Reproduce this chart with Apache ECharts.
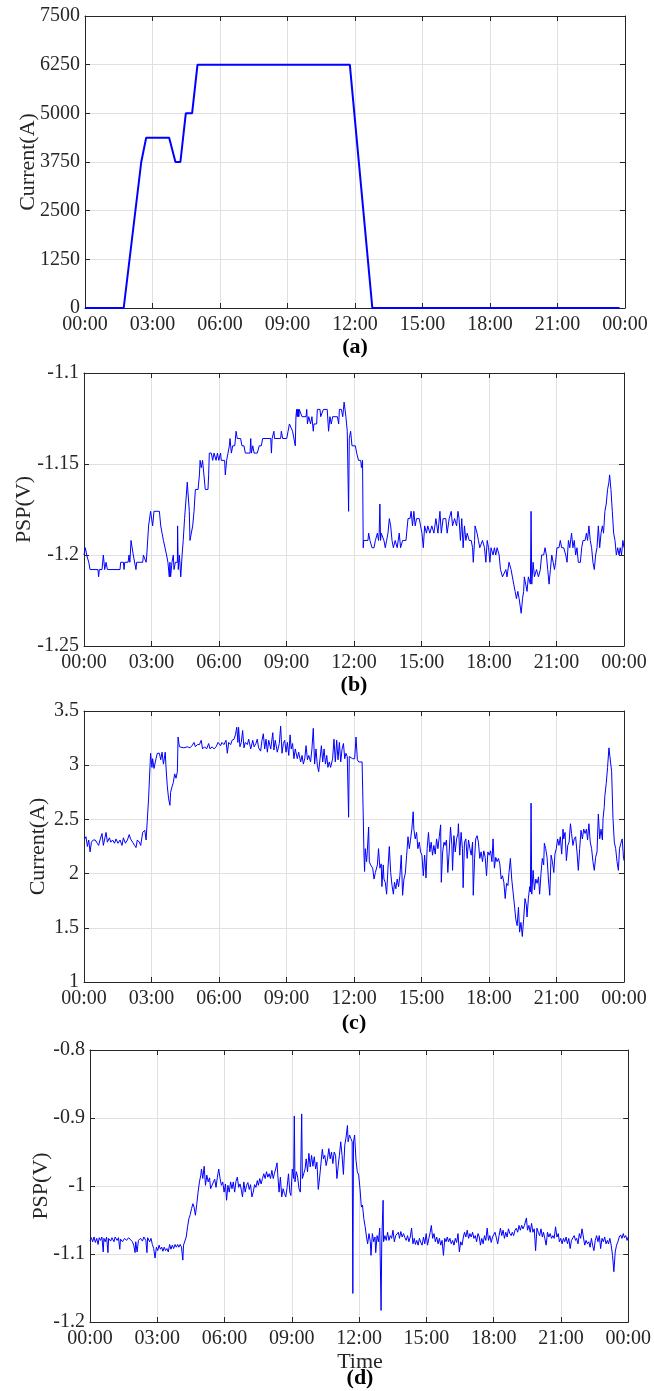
<!DOCTYPE html>
<html>
<head>
<meta charset="utf-8">
<title>Current and PSP over one day</title>
<script src="https://cdn.jsdelivr.net/npm/echarts@6/dist/echarts.min.js"></script>
<style>
  html, body { margin: 0; padding: 0; background: #fff; }
  #chart { width: 654px; height: 1391px; }
</style>
</head>
<body>
<div id="chart"></div>
<script>
// time axis ticks (hours), last one shows as 00:00 of the next day
const hourTicks = [0, 3, 6, 9, 12, 15, 18, 21, 24];

// (a) drain current of the station, A
const aHours = [0, 1.72, 2.50, 2.72, 3.74, 4.02, 4.24, 4.48, 4.76, 5.00, 11.77, 12.77, 23.76];
const aCurrent = [0, 0, 3750, 4375, 4375, 3750, 3750, 5000, 5000, 6250, 6250, 0, 0];

// (b) pipe-to-soil potential, V  [hour, value]
const bPsp = [
  [0,-1.200],[0.06,-1.196],[0.12,-1.200],[0.21,-1.204],[0.27,-1.208],[0.62,-1.208],[0.65,-1.212],[0.68,-1.208],
  [0.80,-1.208],[0.86,-1.200],[0.92,-1.208],[0.98,-1.204],[1.04,-1.208],[1.60,-1.208],[1.63,-1.204],[1.75,-1.204],
  [1.78,-1.208],[1.81,-1.204],[1.96,-1.204],[2.00,-1.200],[2.04,-1.204],[2.09,-1.192],[2.16,-1.192],[2.19,-1.200],
  [2.25,-1.200],[2.31,-1.208],[2.34,-1.204],[2.61,-1.204],[2.64,-1.200],[2.76,-1.204],[2.79,-1.200],[2.87,-1.184],
  [2.96,-1.176],[3.02,-1.176],[3.05,-1.184],[3.11,-1.176],[3.35,-1.176],[3.41,-1.184],[3.47,-1.188],[3.53,-1.192],
  [3.61,-1.192],[3.67,-1.200],[3.73,-1.204],[3.79,-1.212],[3.82,-1.204],[3.85,-1.212],[3.91,-1.204],[3.97,-1.200],
  [4.00,-1.208],[4.06,-1.204],[4.15,-1.204],[4.16,-1.184],[4.19,-1.208],[4.24,-1.200],[4.30,-1.212],[4.36,-1.200],
  [4.41,-1.192],[4.47,-1.180],[4.53,-1.180],[4.59,-1.160],[4.65,-1.160],[4.68,-1.176],[4.71,-1.192],[4.77,-1.188],
  [4.83,-1.184],[4.89,-1.176],[4.95,-1.164],[5.07,-1.164],[5.13,-1.156],[5.16,-1.148],[5.21,-1.152],[5.27,-1.148],
  [5.33,-1.156],[5.39,-1.164],[5.51,-1.164],[5.54,-1.156],[5.57,-1.144],[5.66,-1.144],[5.72,-1.148],[5.78,-1.144],
  [5.87,-1.148],[5.93,-1.144],[5.99,-1.148],[6.07,-1.144],[6.10,-1.148],[6.25,-1.148],[6.28,-1.156],[6.34,-1.148],
  [6.40,-1.144],[6.46,-1.140],[6.49,-1.136],[6.55,-1.144],[6.61,-1.140],[6.70,-1.140],[6.76,-1.132],[6.81,-1.136],
  [6.96,-1.136],[7.02,-1.140],[7.11,-1.140],[7.17,-1.144],[7.38,-1.144],[7.41,-1.136],[7.44,-1.144],[7.50,-1.140],
  [7.56,-1.144],[7.70,-1.144],[7.79,-1.140],[7.88,-1.140],[7.94,-1.136],[8.30,-1.136],[8.33,-1.144],[8.36,-1.136],
  [8.44,-1.132],[8.47,-1.136],[8.74,-1.136],[8.77,-1.132],[8.83,-1.136],[9.01,-1.136],[9.07,-1.132],[9.13,-1.128],
  [9.21,-1.128],[9.27,-1.132],[9.33,-1.132],[9.39,-1.140],[9.42,-1.124],[9.45,-1.120],[9.47,-1.124],[9.49,-1.120],
  [9.51,-1.124],[9.53,-1.120],[9.55,-1.124],[9.57,-1.120],[9.63,-1.120],[9.69,-1.124],[9.87,-1.124],[9.90,-1.120],
  [9.93,-1.128],[9.99,-1.124],[10.07,-1.128],[10.13,-1.124],[10.19,-1.132],[10.22,-1.128],[10.34,-1.128],[10.37,-1.120],
  [10.49,-1.120],[10.52,-1.124],[10.64,-1.120],[10.81,-1.120],[10.87,-1.132],[10.93,-1.124],[10.99,-1.128],[11.05,-1.124],
  [11.26,-1.124],[11.32,-1.128],[11.35,-1.120],[11.44,-1.120],[11.50,-1.124],[11.53,-1.120],[11.56,-1.116],[11.64,-1.124],
  [11.67,-1.128],[11.70,-1.132],[11.76,-1.176],[11.79,-1.136],[11.85,-1.132],[11.91,-1.140],[12.06,-1.140],[12.12,-1.144],
  [12.20,-1.148],[12.30,-1.148],[12.33,-1.152],[12.38,-1.148],[12.41,-1.196],[12.43,-1.192],[12.62,-1.192],[12.65,-1.188],
  [12.71,-1.192],[12.80,-1.196],[12.89,-1.196],[12.95,-1.192],[13.04,-1.188],[13.09,-1.192],[13.12,-1.188],[13.15,-1.172],
  [13.18,-1.192],[13.21,-1.188],[13.27,-1.188],[13.33,-1.192],[13.39,-1.196],[13.45,-1.192],[13.51,-1.188],[13.57,-1.180],
  [13.63,-1.184],[13.69,-1.192],[13.75,-1.196],[13.83,-1.192],[13.92,-1.196],[14.01,-1.188],[14.07,-1.196],[14.16,-1.192],
  [14.31,-1.192],[14.40,-1.180],[14.49,-1.180],[14.54,-1.176],[14.60,-1.184],[14.66,-1.176],[14.72,-1.184],[14.78,-1.180],
  [14.90,-1.180],[14.96,-1.184],[15.02,-1.188],[15.08,-1.196],[15.14,-1.184],[15.22,-1.188],[15.28,-1.184],[15.37,-1.188],
  [15.46,-1.184],[15.55,-1.188],[15.64,-1.180],[15.73,-1.188],[15.82,-1.176],[15.88,-1.188],[15.96,-1.180],[16.08,-1.180],
  [16.14,-1.188],[16.23,-1.180],[16.32,-1.176],[16.38,-1.184],[16.47,-1.180],[16.56,-1.184],[16.62,-1.176],[16.67,-1.180],
  [16.73,-1.192],[16.79,-1.180],[16.85,-1.196],[16.91,-1.184],[16.97,-1.192],[17.03,-1.188],[17.12,-1.192],[17.21,-1.192],
  [17.27,-1.196],[17.30,-1.204],[17.36,-1.192],[17.38,-1.184],[17.47,-1.188],[17.53,-1.192],[17.59,-1.196],[17.71,-1.192],
  [17.80,-1.196],[17.86,-1.204],[17.92,-1.192],[17.98,-1.196],[18.04,-1.204],[18.09,-1.196],[18.18,-1.200],[18.24,-1.196],
  [18.30,-1.200],[18.36,-1.196],[18.45,-1.200],[18.51,-1.208],[18.60,-1.212],[18.75,-1.208],[18.80,-1.212],[18.89,-1.204],
  [18.98,-1.208],[19.04,-1.212],[19.10,-1.216],[19.16,-1.220],[19.22,-1.224],[19.28,-1.220],[19.34,-1.224],[19.43,-1.232],
  [19.49,-1.224],[19.54,-1.220],[19.57,-1.212],[19.63,-1.216],[19.69,-1.220],[19.75,-1.212],[19.84,-1.216],[19.87,-1.176],
  [19.90,-1.216],[19.96,-1.204],[20.02,-1.212],[20.11,-1.208],[20.20,-1.212],[20.28,-1.208],[20.34,-1.200],[20.43,-1.200],
  [20.49,-1.196],[20.55,-1.200],[20.61,-1.208],[20.67,-1.216],[20.73,-1.208],[20.79,-1.200],[20.85,-1.204],[20.91,-1.208],
  [20.96,-1.204],[21.02,-1.196],[21.11,-1.196],[21.17,-1.192],[21.23,-1.196],[21.32,-1.196],[21.41,-1.200],[21.47,-1.204],
  [21.53,-1.192],[21.59,-1.196],[21.67,-1.188],[21.73,-1.196],[21.79,-1.192],[21.85,-1.200],[21.91,-1.196],[21.97,-1.204],
  [22.06,-1.204],[22.12,-1.196],[22.18,-1.192],[22.27,-1.192],[22.33,-1.188],[22.38,-1.192],[22.44,-1.184],[22.50,-1.192],
  [22.56,-1.196],[22.62,-1.204],[22.68,-1.208],[22.74,-1.200],[22.80,-1.196],[22.86,-1.184],[22.92,-1.196],[22.98,-1.188],
  [23.04,-1.184],[23.09,-1.188],[23.15,-1.176],[23.21,-1.172],[23.27,-1.164],[23.33,-1.160],[23.36,-1.156],[23.42,-1.164],
  [23.48,-1.176],[23.54,-1.188],[23.60,-1.192],[23.66,-1.200],[23.72,-1.196],[23.78,-1.200],[23.83,-1.196],[23.89,-1.200],
  [23.95,-1.192],[24.00,-1.196]
];

// (c) current on the coupon, A  [hour, value]
const cCurrent = [
  [0.03,2.32],[0.09,2.34],[0.15,2.25],[0.21,2.31],[0.27,2.20],[0.33,2.29],[0.41,2.31],[0.50,2.31],[0.59,2.28],[0.65,2.26],
  [0.71,2.31],[0.80,2.37],[0.86,2.26],[0.92,2.32],[0.98,2.38],[1.04,2.29],[1.13,2.33],[1.19,2.29],[1.27,2.31],[1.36,2.28],
  [1.42,2.32],[1.51,2.28],[1.60,2.31],[1.69,2.26],[1.75,2.33],[1.84,2.28],[1.93,2.31],[2.01,2.36],[2.07,2.32],[2.16,2.29],
  [2.25,2.26],[2.31,2.24],[2.37,2.31],[2.46,2.29],[2.52,2.26],[2.61,2.38],[2.70,2.40],[2.76,2.31],[2.79,2.31],[2.87,2.69],
  [2.96,3.11],[3.02,2.98],[3.05,3.06],[3.11,2.97],[3.20,3.06],[3.26,3.11],[3.35,3.11],[3.41,3.05],[3.47,3.12],[3.53,3.01],
  [3.61,3.12],[3.64,3.00],[3.70,2.81],[3.76,2.69],[3.82,2.63],[3.85,2.75],[3.91,2.80],[3.97,2.84],[4.03,2.92],[4.09,2.88],
  [4.15,2.94],[4.18,3.26],[4.24,3.17],[4.30,3.16],[4.44,3.16],[4.59,3.17],[4.71,3.16],[4.80,3.18],[4.89,3.21],[4.95,3.17],
  [5.04,3.19],[5.13,3.19],[5.21,3.23],[5.27,3.15],[5.36,3.17],[5.45,3.15],[5.54,3.20],[5.60,3.15],[5.69,3.17],[5.78,3.15],
  [5.87,3.17],[5.96,3.21],[6.01,3.20],[6.07,3.18],[6.13,3.21],[6.22,3.19],[6.31,3.23],[6.37,3.11],[6.43,3.21],[6.52,3.19],
  [6.58,3.23],[6.67,3.24],[6.73,3.28],[6.79,3.35],[6.84,3.21],[6.87,3.35],[6.93,3.17],[6.99,3.21],[7.05,3.32],[7.11,3.16],
  [7.17,3.21],[7.26,3.19],[7.32,3.24],[7.41,3.15],[7.50,3.23],[7.56,3.17],[7.64,3.20],[7.70,3.24],[7.76,3.16],[7.85,3.13],
  [7.91,3.23],[7.97,3.29],[8.03,3.15],[8.09,3.24],[8.15,3.12],[8.21,3.23],[8.30,3.15],[8.39,3.30],[8.44,3.14],[8.50,3.23],
  [8.59,3.12],[8.68,3.20],[8.74,3.36],[8.80,3.11],[8.86,3.20],[8.92,3.23],[8.98,3.12],[9.04,3.21],[9.10,3.09],[9.16,3.28],
  [9.21,3.15],[9.27,3.20],[9.33,3.06],[9.39,3.15],[9.48,3.06],[9.54,3.12],[9.63,3.03],[9.69,3.09],[9.75,3.01],[9.81,3.06],
  [9.87,3.18],[9.93,3.05],[9.99,3.09],[10.07,3.03],[10.13,3.15],[10.19,3.34],[10.25,3.01],[10.31,3.15],[10.37,3.00],[10.43,2.94],
  [10.49,3.06],[10.55,3.18],[10.61,3.03],[10.67,3.15],[10.73,3.01],[10.79,3.09],[10.84,2.98],[10.90,3.03],[10.96,2.98],[11.05,3.06],
  [11.11,3.24],[11.17,3.03],[11.23,3.23],[11.29,3.05],[11.35,3.21],[11.41,3.03],[11.47,3.15],[11.53,3.20],[11.59,3.06],[11.64,3.11],
  [11.70,3.08],[11.76,2.52],[11.79,3.08],[11.85,3.09],[11.94,3.06],[12.03,3.06],[12.09,3.26],[12.15,3.05],[12.21,3.03],[12.36,3.03],
  [12.41,2.54],[12.44,2.21],[12.47,2.02],[12.50,2.23],[12.56,2.11],[12.59,2.20],[12.65,2.43],[12.68,2.11],[12.74,2.08],[12.83,2.05],
  [12.89,1.95],[12.95,2.01],[13.01,2.00],[13.04,2.08],[13.09,2.23],[13.15,2.05],[13.21,2.09],[13.24,1.88],[13.30,2.08],[13.33,1.95],
  [13.39,1.92],[13.45,1.81],[13.51,2.05],[13.57,2.25],[13.63,2.01],[13.69,1.89],[13.75,1.81],[13.80,1.92],[13.86,1.86],[13.92,1.95],
  [13.98,1.88],[14.04,1.98],[14.10,2.17],[14.16,1.80],[14.22,1.95],[14.28,2.00],[14.34,2.17],[14.40,2.34],[14.46,2.23],[14.51,2.31],
  [14.57,2.41],[14.63,2.57],[14.66,2.41],[14.72,2.32],[14.78,2.38],[14.84,2.23],[14.90,2.29],[14.96,2.20],[15.02,2.17],[15.08,1.98],
  [15.14,2.17],[15.20,1.96],[15.25,2.23],[15.31,2.38],[15.37,2.20],[15.43,2.29],[15.49,2.17],[15.55,2.26],[15.61,2.18],[15.67,2.32],
  [15.73,2.23],[15.79,2.34],[15.85,2.45],[15.88,1.92],[15.94,2.20],[16.00,2.29],[16.05,2.26],[16.11,2.31],[16.17,2.01],[16.23,2.20],
  [16.29,2.43],[16.35,2.26],[16.38,2.03],[16.44,2.35],[16.50,2.20],[16.56,2.32],[16.62,2.37],[16.64,2.46],[16.70,2.17],[16.76,2.38],
  [16.82,2.23],[16.85,1.87],[16.91,2.29],[16.97,2.32],[17.03,2.14],[17.09,2.31],[17.15,2.23],[17.21,2.17],[17.27,2.29],[17.30,1.80],
  [17.36,2.14],[17.41,2.32],[17.47,2.35],[17.53,2.29],[17.59,2.14],[17.65,2.20],[17.71,2.11],[17.77,2.21],[17.83,2.15],[17.89,1.98],
  [17.95,2.20],[18.01,2.17],[18.07,2.21],[18.13,2.11],[18.18,2.32],[18.24,2.05],[18.30,2.15],[18.36,2.11],[18.42,2.14],[18.48,2.09],
  [18.54,1.95],[18.60,1.98],[18.66,1.92],[18.72,1.77],[18.78,1.91],[18.84,1.89],[18.89,2.01],[18.95,2.14],[19.01,1.95],[19.07,1.83],
  [19.13,1.71],[19.19,1.58],[19.25,1.52],[19.31,1.69],[19.36,1.46],[19.42,1.55],[19.48,1.42],[19.54,1.58],[19.60,1.77],[19.66,1.71],
  [19.69,1.60],[19.75,1.77],[19.81,1.88],[19.84,1.83],[19.87,2.65],[19.90,1.81],[19.96,2.03],[20.02,1.85],[20.08,1.95],[20.14,1.91],
  [20.20,1.97],[20.25,1.81],[20.31,2.00],[20.37,2.14],[20.43,2.08],[20.46,2.28],[20.52,2.23],[20.58,2.15],[20.64,1.95],[20.70,1.80],
  [20.76,2.17],[20.82,2.11],[20.88,2.01],[20.93,2.18],[20.99,2.23],[21.05,2.32],[21.11,2.26],[21.17,2.34],[21.23,2.18],[21.29,2.41],
  [21.32,2.32],[21.38,2.38],[21.44,2.12],[21.50,2.26],[21.56,2.29],[21.62,2.46],[21.67,2.37],[21.73,2.26],[21.79,2.32],[21.85,2.34],
  [21.91,2.20],[21.97,2.03],[22.03,2.23],[22.09,2.40],[22.15,2.32],[22.21,2.41],[22.27,2.37],[22.33,2.41],[22.38,2.31],[22.44,2.46],
  [22.50,2.29],[22.56,2.23],[22.62,2.11],[22.68,2.03],[22.74,2.15],[22.80,2.20],[22.86,2.55],[22.92,2.32],[22.98,2.41],[23.04,2.31],
  [23.07,2.51],[23.12,2.61],[23.15,2.72],[23.21,2.83],[23.27,2.98],[23.33,3.16],[23.39,3.16],[23.45,2.94],[23.51,2.51],[23.57,2.29],
  [23.63,2.23],[23.69,2.11],[23.75,2.03],[23.80,2.23],[23.86,2.28],[23.92,2.32],[23.98,2.14],[24.00,2.12]
];

// (d) pipe-to-soil potential at the second site, V  [hour, value]
const dPsp = [
  [0.00,-1.081],[0.06,-1.076],[0.12,-1.082],[0.18,-1.075],[0.24,-1.083],[0.30,-1.077],[0.36,-1.086],[0.41,-1.076],[0.47,-1.080],[0.53,-1.075],
  [0.59,-1.097],[0.62,-1.077],[0.68,-1.082],[0.74,-1.075],[0.80,-1.098],[0.83,-1.077],[0.92,-1.081],[0.98,-1.076],[1.07,-1.082],[1.12,-1.075],
  [1.21,-1.080],[1.27,-1.076],[1.33,-1.093],[1.36,-1.078],[1.45,-1.082],[1.54,-1.077],[1.63,-1.080],[1.72,-1.076],[1.80,-1.078],[1.89,-1.082],
  [1.95,-1.087],[2.01,-1.098],[2.04,-1.082],[2.10,-1.097],[2.16,-1.080],[2.25,-1.077],[2.34,-1.081],[2.40,-1.075],[2.49,-1.080],[2.54,-1.098],
  [2.57,-1.076],[2.66,-1.082],[2.72,-1.077],[2.78,-1.086],[2.84,-1.092],[2.90,-1.106],[2.96,-1.090],[3.02,-1.095],[3.08,-1.087],[3.14,-1.093],
  [3.20,-1.090],[3.25,-1.096],[3.31,-1.090],[3.37,-1.095],[3.43,-1.092],[3.49,-1.097],[3.55,-1.086],[3.61,-1.093],[3.67,-1.087],[3.73,-1.092],
  [3.79,-1.086],[3.85,-1.090],[3.91,-1.086],[3.96,-1.090],[4.02,-1.086],[4.08,-1.090],[4.14,-1.109],[4.17,-1.087],[4.23,-1.085],[4.29,-1.075],
  [4.35,-1.060],[4.41,-1.048],[4.47,-1.042],[4.53,-1.033],[4.59,-1.026],[4.64,-1.031],[4.70,-1.043],[4.76,-1.027],[4.82,-1.009],[4.88,-0.994],
  [4.94,-0.984],[4.97,-0.975],[5.03,-0.989],[5.09,-0.971],[5.15,-0.999],[5.21,-0.984],[5.27,-0.994],[5.33,-0.988],[5.38,-1.004],[5.44,-0.999],
  [5.50,-0.997],[5.56,-0.990],[5.62,-1.002],[5.68,-0.987],[5.74,-0.975],[5.80,-0.989],[5.86,-0.999],[5.92,-0.994],[5.98,-1.009],[6.04,-0.997],
  [6.09,-1.021],[6.15,-0.999],[6.21,-1.009],[6.27,-0.994],[6.33,-1.004],[6.39,-0.994],[6.45,-1.009],[6.51,-0.993],[6.57,-0.987],[6.63,-1.002],
  [6.69,-0.997],[6.75,-1.006],[6.80,-1.016],[6.86,-0.994],[6.92,-1.009],[6.98,-0.999],[7.04,-0.995],[7.10,-1.005],[7.16,-0.998],[7.22,-1.016],
  [7.28,-1.009],[7.34,-0.998],[7.40,-1.002],[7.46,-0.992],[7.51,-0.999],[7.57,-0.989],[7.63,-0.997],[7.69,-0.989],[7.75,-0.982],[7.81,-0.989],
  [7.87,-0.979],[7.93,-0.987],[7.99,-0.982],[8.05,-0.989],[8.11,-0.977],[8.17,-0.989],[8.22,-0.982],[8.28,-0.975],[8.34,-0.966],[8.37,-0.982],
  [8.43,-1.009],[8.49,-0.987],[8.55,-1.016],[8.61,-1.004],[8.67,-1.011],[8.73,-1.016],[8.79,-1.002],[8.85,-0.982],[8.91,-1.009],[8.96,-1.014],
  [9.02,-0.975],[9.08,-0.989],[9.11,-0.897],[9.14,-0.994],[9.20,-0.979],[9.26,-0.987],[9.32,-1.004],[9.38,-1.009],[9.44,-0.894],[9.47,-0.989],
  [9.53,-0.982],[9.59,-0.975],[9.64,-0.960],[9.70,-0.979],[9.76,-0.952],[9.82,-0.972],[9.88,-0.955],[9.94,-0.971],[10.00,-0.957],[10.06,-0.975],
  [10.12,-0.965],[10.18,-1.005],[10.24,-0.987],[10.30,-0.989],[10.36,-0.946],[10.41,-0.960],[10.47,-0.955],[10.53,-0.970],[10.59,-0.960],[10.65,-0.945],
  [10.71,-0.960],[10.77,-0.950],[10.83,-0.967],[10.89,-0.950],[10.95,-0.955],[11.01,-0.989],[11.07,-0.970],[11.12,-0.955],[11.18,-0.935],[11.24,-0.955],
  [11.30,-0.983],[11.36,-0.940],[11.42,-0.928],[11.48,-0.911],[11.51,-0.935],[11.57,-0.925],[11.63,-0.930],[11.69,-0.935],[11.72,-1.158],[11.75,-0.935],
  [11.80,-0.925],[11.86,-0.962],[11.92,-0.979],[11.98,-0.984],[12.04,-1.004],[12.10,-1.031],[12.15,-1.028],[12.21,-1.048],[12.27,-1.060],[12.33,-1.075],
  [12.38,-1.085],[12.44,-1.070],[12.50,-1.082],[12.53,-1.102],[12.59,-1.070],[12.65,-1.082],[12.71,-1.075],[12.74,-1.098],[12.80,-1.073],[12.86,-1.082],
  [12.92,-1.062],[12.98,-1.183],[13.01,-1.082],[13.07,-1.021],[13.09,-1.082],[13.15,-1.073],[13.21,-1.080],[13.27,-1.068],[13.33,-1.080],[13.39,-1.073],
  [13.45,-1.077],[13.51,-1.065],[13.57,-1.082],[13.63,-1.073],[13.69,-1.075],[13.75,-1.068],[13.80,-1.077],[13.86,-1.067],[13.92,-1.075],[13.98,-1.070],
  [14.04,-1.076],[14.10,-1.080],[14.16,-1.073],[14.22,-1.082],[14.28,-1.075],[14.34,-1.062],[14.40,-1.085],[14.46,-1.077],[14.51,-1.086],[14.57,-1.080],
  [14.63,-1.087],[14.69,-1.077],[14.75,-1.083],[14.81,-1.087],[14.87,-1.075],[14.93,-1.085],[14.99,-1.070],[15.05,-1.087],[15.11,-1.077],[15.17,-1.068],
  [15.22,-1.058],[15.28,-1.077],[15.34,-1.070],[15.40,-1.082],[15.46,-1.075],[15.52,-1.085],[15.58,-1.077],[15.64,-1.087],[15.70,-1.080],[15.76,-1.102],
  [15.82,-1.077],[15.88,-1.082],[15.93,-1.075],[15.99,-1.082],[16.05,-1.077],[16.11,-1.085],[16.17,-1.080],[16.23,-1.087],[16.29,-1.077],[16.35,-1.083],
  [16.41,-1.070],[16.47,-1.097],[16.53,-1.082],[16.59,-1.087],[16.65,-1.075],[16.70,-1.068],[16.76,-1.075],[16.82,-1.065],[16.88,-1.077],[16.94,-1.070],
  [17.00,-1.075],[17.06,-1.068],[17.12,-1.077],[17.18,-1.073],[17.24,-1.082],[17.30,-1.070],[17.36,-1.075],[17.41,-1.087],[17.47,-1.077],[17.53,-1.085],
  [17.59,-1.073],[17.65,-1.080],[17.71,-1.062],[17.77,-1.080],[17.83,-1.073],[17.89,-1.083],[17.95,-1.075],[18.01,-1.073],[18.06,-1.068],[18.12,-1.076],
  [18.18,-1.085],[18.24,-1.073],[18.30,-1.062],[18.36,-1.073],[18.42,-1.065],[18.48,-1.077],[18.54,-1.068],[18.60,-1.075],[18.66,-1.063],[18.72,-1.070],
  [18.78,-1.073],[18.83,-1.068],[18.89,-1.073],[18.95,-1.065],[19.01,-1.062],[19.07,-1.068],[19.13,-1.058],[19.19,-1.065],[19.25,-1.058],[19.31,-1.063],
  [19.37,-1.058],[19.43,-1.060],[19.46,-1.047],[19.51,-1.065],[19.57,-1.058],[19.63,-1.068],[19.69,-1.055],[19.75,-1.068],[19.81,-1.063],[19.87,-1.095],
  [19.93,-1.062],[19.99,-1.068],[20.05,-1.073],[20.11,-1.063],[20.17,-1.075],[20.22,-1.068],[20.28,-1.077],[20.34,-1.087],[20.40,-1.068],[20.46,-1.075],
  [20.52,-1.070],[20.58,-1.077],[20.64,-1.073],[20.70,-1.077],[20.76,-1.060],[20.82,-1.075],[20.88,-1.070],[20.93,-1.082],[20.99,-1.077],[21.05,-1.085],
  [21.11,-1.077],[21.17,-1.082],[21.23,-1.075],[21.29,-1.085],[21.35,-1.077],[21.41,-1.092],[21.47,-1.080],[21.53,-1.082],[21.59,-1.073],[21.65,-1.080],
  [21.70,-1.077],[21.76,-1.085],[21.82,-1.070],[21.88,-1.077],[21.94,-1.063],[22.00,-1.075],[22.06,-1.087],[22.12,-1.080],[22.18,-1.085],[22.24,-1.082],
  [22.30,-1.090],[22.36,-1.077],[22.41,-1.087],[22.47,-1.095],[22.53,-1.080],[22.59,-1.073],[22.65,-1.082],[22.71,-1.073],[22.77,-1.092],[22.83,-1.077],
  [22.89,-1.082],[22.95,-1.075],[23.01,-1.085],[23.07,-1.080],[23.12,-1.085],[23.18,-1.077],[23.24,-1.087],[23.30,-1.102],[23.36,-1.126],[23.42,-1.097],
  [23.48,-1.087],[23.54,-1.082],[23.60,-1.075],[23.66,-1.072],[23.72,-1.077],[23.78,-1.070],[23.83,-1.076],[23.89,-1.073],[23.95,-1.080],[24.00,-1.075]
];

const FONT = "'Liberation Serif', 'Times New Roman', serif";
const INK = "#262626";
const GRIDLINE = "#e0e0e0";

function hourLabel(v) {
  const h = Math.round(v) % 24;
  return (h < 10 ? "0" + h : "" + h) + ":00";
}

// panel layout: one grid per sub-figure
const panels = [
  { left: 85, top: 16,   height: 292, min: 0,     max: 7500, step: 1250, name: "Current(A)", gap: 46, caption: "(a)", capY: 347,  width: 2, plain: true,  data: aHours.map((h, i) => [h, aCurrent[i]]) },
  { left: 84, top: 373,  height: 273, min: -1.25, max: -1.1, step: 0.05, name: "PSP(V)",     gap: 49, caption: "(b)", capY: 685,  width: 1, plain: false, data: bPsp },
  { left: 84, top: 711,  height: 271, min: 1,     max: 3.5,  step: 0.5,  name: "Current(A)", gap: 35, caption: "(c)", capY: 1023, width: 1, plain: false, data: cCurrent },
  { left: 90, top: 1050, height: 272, min: -1.2,  max: -0.8, step: 0.1,  name: "PSP(V)",     gap: 38, caption: "(d)", capY: 1378, width: 1, plain: false, data: dPsp }
];

const grid = [], xAxis = [], yAxis = [], series = [], graphic = [];

panels.forEach((p, i) => {
  grid.push({ left: p.left, top: p.top, width: 540, height: p.height, containLabel: false });

  const lineStyle = { color: INK, width: 1 };
  const tick = { show: true, inside: true, length: 5, lineStyle: lineStyle };

  // bottom axis with labels, top axis only for the box and ticks
  xAxis.push({
    gridIndex: i, type: "value", min: 0, max: 24, interval: 3, position: "bottom",
    axisLine: { show: true, onZero: false, lineStyle: lineStyle },
    axisTick: tick,
    axisLabel: { formatter: hourLabel, fontFamily: FONT, fontSize: 20, color: INK, margin: 7 },
    splitLine: { show: true, lineStyle: { color: GRIDLINE, width: 1 } }
  });
  xAxis.push({
    gridIndex: i, type: "value", min: 0, max: 24, interval: 3, position: "top",
    axisLine: { show: true, onZero: false, lineStyle: lineStyle },
    axisTick: tick, axisLabel: { show: false }, splitLine: { show: false }
  });

  const yLabel = { fontFamily: FONT, fontSize: 20, color: INK, margin: 5 };
  if (p.plain) yLabel.formatter = v => String(v); // no thousands separator

  yAxis.push({
    gridIndex: i, type: "value", min: p.min, max: p.max, interval: p.step, position: "left",
    axisLine: { show: true, onZero: false, lineStyle: lineStyle },
    axisTick: tick,
    axisLabel: yLabel,
    splitLine: { show: true, lineStyle: { color: GRIDLINE, width: 1 } },
    name: p.name, nameLocation: "middle", nameGap: p.gap, nameMoveOverlap: false,
    nameTextStyle: { fontFamily: FONT, fontSize: 22, color: INK }
  });
  yAxis.push({
    gridIndex: i, type: "value", min: p.min, max: p.max, interval: p.step, position: "right",
    axisLine: { show: true, onZero: false, lineStyle: lineStyle },
    axisTick: tick, axisLabel: { show: false }, splitLine: { show: false }
  });

  series.push({
    type: "line", xAxisIndex: 2 * i, yAxisIndex: 2 * i,
    data: p.data, showSymbol: false, symbol: "none",
    lineStyle: { color: "#0000ff", width: p.width },
    z: 3
  });

  graphic.push({
    type: "text", x: p.left + 270, y: p.capY,
    style: { text: p.caption, font: "bold 22px " + FONT, fill: "#000", align: "center", verticalAlign: "middle" }
  });
});

// axis title of the last panel
graphic.push({
  type: "text", x: panels[3].left + 270, y: 1362,
  style: { text: "Time", font: "22px " + FONT, fill: INK, align: "center", verticalAlign: "middle" }
});

const myChart = echarts.init(document.getElementById("chart"), null, { renderer: "canvas" });
myChart.setOption({
  animation: false,
  backgroundColor: "#fff",
  grid: grid,
  xAxis: xAxis,
  yAxis: yAxis,
  series: series,
  graphic: graphic
});
</script>
</body>
</html>
